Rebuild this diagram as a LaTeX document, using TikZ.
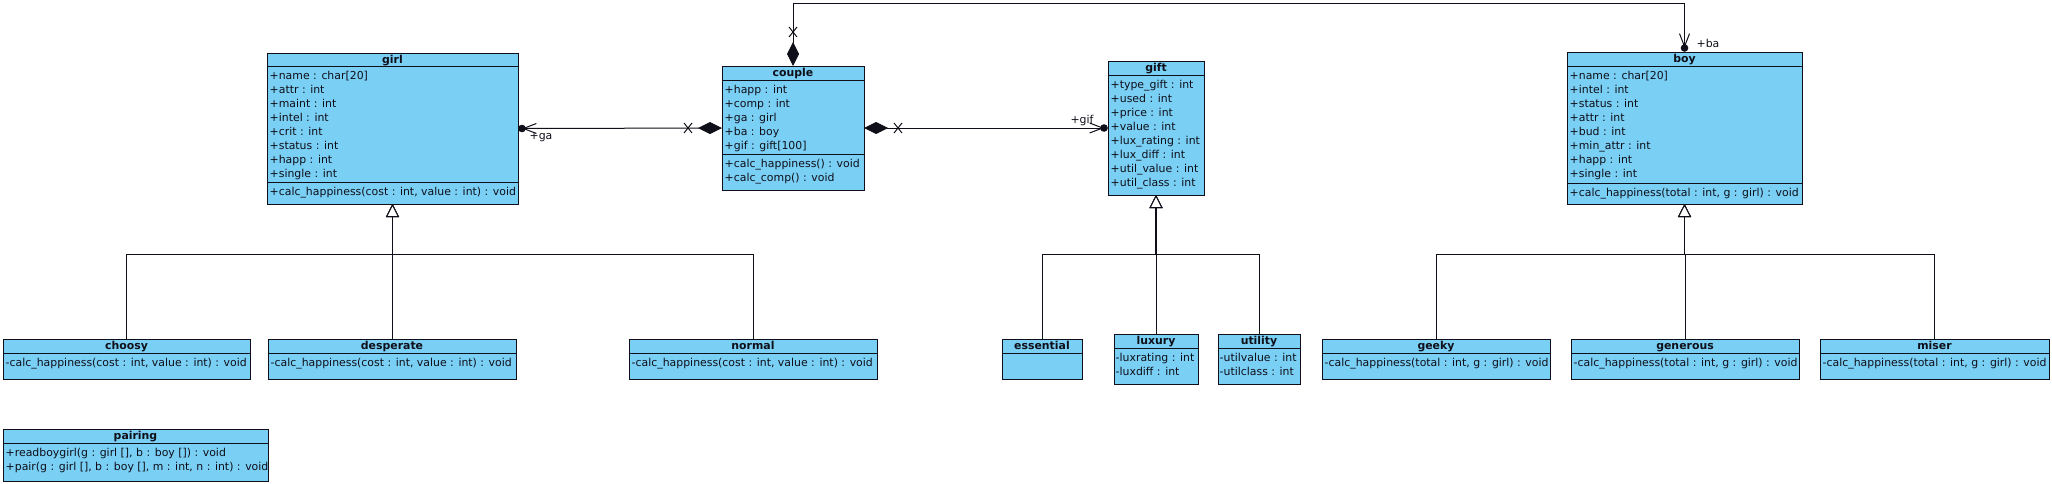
\documentclass[tikz,border=0pt]{standalone}
\usepackage{fontspec}
\setmainfont{DejaVu Sans}
\usetikzlibrary{arrows.meta,calc}
\definecolor{umlfill}{RGB}{122,207,245}
\definecolor{umlline}{RGB}{15,15,25}
\newcommand\umlclass[6]{%
  \node[classbox, minimum width={#4-#2}, minimum height={#5-#3}] (#1) at (#2,#3) {};
  \node[titletext] (#1-title) at ({(#2+#4)/2},{#3+10.6}) {#6};}
\newcommand\sepat[3]{\draw[sepline] ($(#1.west |- 0,#2)$) -- ($(#1.east |- 0,#2)$);}
\newcommand\members[4]{\node[membertext] (#1) at ({#2+2.5},{#3+3.2}) {\strut #4};}
\newcommand\xcross[1]{\draw[assoc] ($(#1)+(-4,-5)$) -- ($(#1)+(4,5)$) ($(#1)+(-4,5)$) -- ($(#1)+(4,-5)$);}
\begin{document}
\begin{tikzpicture}[x=1pt,y=-1pt,
  classbox/.style={draw=umlline, fill=umlfill, line width=1pt, inner sep=0pt, outer sep=0pt, anchor=north west},
  titletext/.style={font=\fontsize{10.9}{14}\selectfont\bfseries, text=umlline, inner sep=0pt, anchor=base},
  membertext/.style={font=\fontsize{10.9}{14}\selectfont, text=umlline, inner sep=0pt, anchor=north west, align=left},
  labeltext/.style={font=\fontsize{10.9}{14}\selectfont, text=umlline, inner sep=0pt},
  sepline/.style={draw=umlline, line width=1pt},
  assoc/.style={draw=umlline, line width=1pt},
  gen/.style={draw=umlline, line width=1pt, -{Triangle[length=13pt, width=13pt, fill=white]}},
  trunk/.style={draw=umlline, line width=1.9pt},
  comp/.style={{Diamond[length=24pt, width=12pt]}-{Straight Barb[length=13pt, width=10pt]}},
  owndot/.style={fill=umlline}
]
\useasboundingbox[fill=white] (0,0) rectangle (2052,483);

% ---------------- classes ----------------
\umlclass{girl}{267}{53}{518}{204}{girl}
\sepat{girl}{66}{}\sepat{girl}{182}{}
\members{girl-attr}{267}{66}{+name : char[20]\\+attr : int\\+maint : int\\+intel : int\\+crit : int\\+status : int\\+happ : int\\+single : int}
\members{girl-ops}{267}{182.5}{+calc\_happiness(cost : int, value : int) : void}

\umlclass{couple}{722}{66}{864}{190}{couple}
\sepat{couple}{80}{}\sepat{couple}{154}{}
\members{couple-attr}{722}{80}{+happ : int\\+comp : int\\+ga : girl\\+ba : boy\\+gif : gift[100]}
\members{couple-ops}{722}{154.5}{+calc\_happiness() : void\\+calc\_comp() : void}

\umlclass{gift}{1108}{61}{1204}{195}{gift}
\sepat{gift}{75}{}
\members{gift-attr}{1108}{75}{+type\_gift : int\\+used : int\\+price : int\\+value : int\\+lux\_rating : int\\+lux\_diff : int\\+util\_value : int\\+util\_class : int}

\umlclass{boy}{1567}{52}{1802}{204}{boy}
\sepat{boy}{66}{}\sepat{boy}{183}{}
\members{boy-attr}{1567}{66}{+name : char[20]\\+intel : int\\+status : int\\+attr : int\\+bud : int\\+min\_attr : int\\+happ : int\\+single : int}
\members{boy-ops}{1567}{183.5}{+calc\_happiness(total : int, g : girl) : void}

\umlclass{choosy}{3}{339}{250}{379}{choosy}
\sepat{choosy}{353}{}
\members{choosy-ops}{3}{353.5}{-calc\_happiness(cost : int, value : int) : void}

\umlclass{desperate}{268}{339}{516}{379}{desperate}
\sepat{desperate}{353}{}
\members{desperate-ops}{268}{353.5}{-calc\_happiness(cost : int, value : int) : void}

\umlclass{normal}{629}{339}{877}{379}{normal}
\sepat{normal}{353}{}
\members{normal-ops}{629}{353.5}{-calc\_happiness(cost : int, value : int) : void}

\umlclass{essential}{1002}{339}{1082}{379}{essential}
\sepat{essential}{353}{}

\umlclass{luxury}{1114}{334}{1198}{384}{luxury}
\sepat{luxury}{348}{}
\members{luxury-attr}{1113}{348}{-luxrating : int\\-luxdiff : int}

\umlclass{utility}{1218}{334}{1300}{384}{utility}
\sepat{utility}{348}{}
\members{utility-attr}{1217}{348}{-utilvalue : int\\-utilclass : int}

\umlclass{geeky}{1322}{339}{1550}{379}{geeky}
\sepat{geeky}{353}{}
\members{geeky-ops}{1322}{353.5}{-calc\_happiness(total : int, g : girl) : void}

\umlclass{generous}{1571}{339}{1799}{379}{generous}
\sepat{generous}{353}{}
\members{generous-ops}{1571}{353.5}{-calc\_happiness(total : int, g : girl) : void}

\umlclass{miser}{1820}{339}{2049}{379}{miser}
\sepat{miser}{353}{}
\members{miser-ops}{1820}{353.5}{-calc\_happiness(total : int, g : girl) : void}

\umlclass{pairing}{3}{429}{268}{481}{pairing}
\sepat{pairing}{443}{}
\members{pairing-ops}{3}{443.5}{+readboygirl(g : girl [], b : boy []) : void\\+pair(g : girl [], b : boy [], m : int, n : int) : void}

% ---------------- associations ----------------
\coordinate (topy) at (0,3);
\coordinate (gaend) at ($(girl.east)+(4,0)$);
\coordinate (gifend) at ($(gift.west |- couple.east)+(-4,0)$);
\coordinate (baend) at ($(boy.north)+(0,-4)$);

\draw[assoc, comp] (couple.west) -- (gaend);
\draw[assoc, comp] (couple.east) -- (gifend);
\draw[assoc, comp] (couple.north) -- (couple.north |- topy) -| (baend);

\fill[owndot] (gaend) circle (3.8);
\fill[owndot] (gifend) circle (3.8);
\fill[owndot] (baend) circle (3.8);

\coordinate (xga) at ($(couple.west)+(-34,0)$);
\coordinate (xgif) at ($(couple.east)+(34,0)$);
\coordinate (xba) at ($(couple.north)+(0,-34)$);
\xcross{xga}\xcross{xgif}\xcross{xba}

\node[labeltext] (ga-label) at (541,137) {+ga};
\node[labeltext] (gif-label) at (1082,120) {+gif};
\node[labeltext] (ba-label) at (1708,43) {+ba};

% ---------------- generalizations ----------------
\coordinate (bus) at (0,254);
\draw[gen] (choosy.north) |- (girl.south |- bus) -- (girl.south);
\draw[gen] (desperate.north) |- (girl.south |- bus) -- (girl.south);
\draw[gen] (normal.north) |- (girl.south |- bus) -- (girl.south);

\draw[gen] (essential.north) |- (gift.south |- bus) -- (gift.south);
\draw[gen] (luxury.north) |- (gift.south |- bus) -- (gift.south);
\draw[gen] (utility.north) |- (gift.south |- bus) -- (gift.south);
\draw[trunk] (gift.south |- bus) -- ($(gift.south)+(0,13)$);

\draw[gen] (geeky.north) |- (boy.south |- bus) -- (boy.south);
\draw[gen] (generous.north) |- (boy.south |- bus) -- (boy.south);
\draw[gen] (miser.north) |- (boy.south |- bus) -- (boy.south);
\draw[trunk] (boy.south |- bus) -- ($(boy.south)+(0,13)$);
\end{tikzpicture}
\end{document}
